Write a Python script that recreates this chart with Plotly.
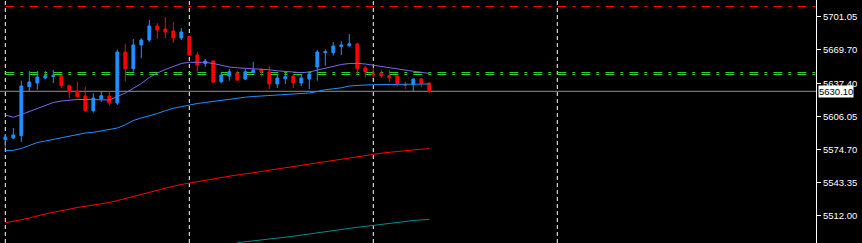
import plotly.graph_objects as go

# ---- data ----
open_ = [5584.22, 5585.83, 5588.01, 5634.46, 5637.97, 5642.71, 5644.20, 5644.89, 5635.41, 5630.39,
         5625.65, 5611.71, 5622.80, 5625.65, 5619.01, 5667.36, 5651.53, 5674.00, 5678.74, 5692.01,
         5689.17, 5687.27, 5680.63, 5681.87, 5664.52, 5656.27, 5658.83, 5639.20, 5644.61, 5647.45,
         5641.76, 5647.74, 5650.58, 5648.40, 5637.02, 5642.05, 5644.61, 5637.97, 5641.76, 5653.14,
         5666.70, 5666.70, 5672.58, 5673.33, 5674.95, 5652.19, 5646.79, 5647.17, 5644.89, 5644.61,
         5636.74, 5636.74, 5641.76, 5637.69]
high = [5589.62, 5595.31, 5640.15, 5649.35, 5649.35, 5649.35, 5650.30, 5645.56, 5636.36, 5638.92,
        5634.46, 5628.21, 5630.10, 5630.39, 5669.54, 5674.95, 5679.69, 5680.35, 5697.70, 5694.85,
        5700.54, 5695.80, 5690.11, 5682.53, 5667.36, 5660.72, 5659.78, 5648.69, 5651.24, 5649.63,
        5651.24, 5657.88, 5651.91, 5654.09, 5646.50, 5647.74, 5645.56, 5646.50, 5649.35, 5669.26,
        5669.92, 5676.84, 5677.79, 5684.43, 5676.18, 5654.09, 5652.19, 5650.30, 5650.30, 5645.56,
        5639.20, 5642.20, 5642.71, 5638.92]
low = [5576.63, 5584.88, 5582.04, 5630.39, 5631.62, 5641.76, 5637.97, 5632.95, 5623.47, 5623.47,
       5611.00, 5609.81, 5620.24, 5616.45, 5617.11, 5639.20, 5648.69, 5661.39, 5677.13, 5679.69,
       5680.63, 5675.89, 5678.74, 5664.04, 5648.69, 5653.14, 5637.69, 5637.69, 5640.15, 5640.15,
       5640.82, 5647.74, 5643.94, 5632.28, 5633.23, 5637.02, 5633.23, 5635.13, 5632.28, 5640.15,
       5654.37, 5664.04, 5664.52, 5672.39, 5646.50, 5643.00, 5643.00, 5642.71, 5638.92, 5634.46,
       5632.28, 5630.39, 5633.90, 5628.21]
close = [5586.78, 5588.67, 5635.13, 5638.92, 5643.66, 5644.89, 5645.20, 5635.41, 5629.72, 5624.98,
         5611.71, 5623.75, 5625.93, 5619.01, 5667.36, 5651.53, 5674.00, 5678.74, 5692.01, 5688.22,
         5686.32, 5680.63, 5686.32, 5664.52, 5655.04, 5658.83, 5638.92, 5645.56, 5648.69, 5640.82,
         5648.69, 5650.30, 5648.69, 5637.02, 5642.71, 5643.94, 5637.97, 5642.71, 5646.50, 5667.36,
         5667.65, 5673.05, 5674.00, 5675.23, 5651.53, 5648.69, 5645.84, 5644.89, 5643.00, 5637.69,
         5635.79, 5641.76, 5637.69, 5630.10]

ma_fast = [5607.63, 5605.45, 5608.11, 5610.95, 5613.80, 5617.11, 5619.48, 5620.91, 5621.85, 5622.33,
           5622.33, 5622.14, 5621.85, 5621.85, 5625.17, 5628.49, 5632.95, 5637.50, 5643.19, 5647.45,
           5650.77, 5653.43, 5656.46, 5657.60, 5657.60, 5657.60, 5656.46, 5654.75, 5653.14, 5652.38,
           5651.91, 5651.53, 5651.24, 5650.49, 5649.54, 5648.78, 5648.12, 5647.74, 5648.40, 5650.30,
           5652.19, 5654.09, 5655.51, 5656.46, 5656.65, 5655.98, 5654.75, 5653.61, 5652.48, 5650.96,
           5649.82, 5649.06, 5648.12, 5646.98]
ma_mid = [5573.88, 5574.17, 5575.87, 5578.72, 5581.56, 5582.98, 5584.41, 5586.30, 5587.73, 5589.15,
          5590.57, 5591.23, 5592.47, 5593.60, 5595.31, 5598.34, 5602.42, 5604.79, 5606.69, 5609.06,
          5611.71, 5613.99, 5615.50, 5617.11, 5618.54, 5619.48, 5620.62, 5621.38, 5622.52, 5623.47,
          5624.51, 5625.17, 5625.65, 5626.12, 5626.41, 5626.78, 5627.26, 5627.54, 5628.49, 5629.91,
          5631.62, 5632.47, 5633.42, 5635.13, 5635.89, 5636.08, 5636.36, 5636.45, 5636.55, 5636.64,
          5636.74, 5636.83, 5636.93, 5637.02]
ma_slow = [5505.53, 5506.67, 5508.28, 5509.99, 5512.07, 5513.78, 5515.39, 5517.10, 5518.71, 5519.94,
           5521.08, 5522.31, 5523.26, 5524.68, 5526.48, 5528.47, 5530.84, 5532.55, 5534.25, 5536.34,
           5538.43, 5540.13, 5541.74, 5543.17, 5544.59, 5545.82, 5547.15, 5548.38, 5549.61, 5550.75,
           5551.70, 5552.84, 5554.07, 5555.30, 5556.44, 5557.67, 5558.90, 5560.23, 5561.56, 5562.79,
           5563.83, 5564.97, 5566.20, 5567.34, 5568.48, 5569.43, 5570.47, 5571.42, 5572.27, 5573.13,
           5573.88, 5574.64, 5575.21, 5575.69]
ma_long_start = 29
ma_long = [5486.57, 5487.33, 5488.09, 5488.84, 5489.70, 5490.74, 5491.78, 5492.73, 5493.77, 5495.01,
           5496.14, 5497.38, 5498.61, 5499.46, 5500.31, 5501.17, 5502.02, 5502.97, 5504.01, 5505.06,
           5506.10, 5506.95, 5507.62, 5508.19, 5508.75]

tick_vals = [5701.05, 5669.70, 5637.40, 5606.05, 5574.70, 5543.35, 5512.00]
tick_text = ["5701.05", "5669.70", "5637.40", "5606.05", "5574.70", "5543.35", "5512.00"]

red_level = 5710.50
green_levels = [5647.93, 5646.03]
last_price = 5630.10
separators = [0, 23, 46, 69]

y_range = [5486.28, 5716.66]
x_range = [-0.6625, 101.34]

# ---- figure ----
idx = list(range(len(close)))
fig = go.Figure()

fig.add_trace(go.Scatter(x=idx, y=ma_slow, mode="lines", line=dict(color="#FF0000", width=1),
                         hoverinfo="skip", showlegend=False))
fig.add_trace(go.Scatter(x=list(range(ma_long_start, ma_long_start + len(ma_long))), y=ma_long,
                         mode="lines", line=dict(color="#008B8B", width=1), hoverinfo="skip",
                         showlegend=False))
fig.add_trace(go.Scatter(x=idx, y=ma_mid, mode="lines", line=dict(color="#1E90FF", width=1),
                         hoverinfo="skip", showlegend=False))
fig.add_trace(go.Scatter(x=idx, y=ma_fast, mode="lines", line=dict(color="#7B68EE", width=1),
                         hoverinfo="skip", showlegend=False))

fig.add_trace(go.Candlestick(
    x=idx, open=open_, high=high, low=low, close=close,
    increasing=dict(line=dict(color="#1E90FF", width=1), fillcolor="#1E90FF"),
    decreasing=dict(line=dict(color="#FF0000", width=1), fillcolor="#FF0000"),
    whiskerwidth=0, hoverinfo="skip", showlegend=False))

shapes = []
for s in separators:
    shapes.append(dict(type="line", xref="x", yref="paper", x0=s, x1=s, y0=0, y1=1,
                       line=dict(color="white", width=1, dash="4px,3px"), layer="below"))
shapes.append(dict(type="line", xref="x", yref="y", x0=0, x1=x_range[1], y0=red_level, y1=red_level,
                   line=dict(color="#FF0000", width=1, dash="9px,6px,3px,6px"), layer="below"))
for g in green_levels:
    shapes.append(dict(type="line", xref="x", yref="y", x0=0, x1=x_range[1], y0=g, y1=g,
                       line=dict(color="#32CD32", width=1, dash="9px,6px,3px,6px"), layer="below"))
shapes.append(dict(type="line", xref="paper", yref="y", x0=0, x1=1, y0=last_price, y1=last_price,
                   line=dict(color="#8C919B", width=1), layer="below"))

fig.update_layout(
    width=862, height=243,
    margin=dict(l=0, r=46, t=0, b=0),
    paper_bgcolor="black", plot_bgcolor="black",
    boxgap=0.5,
    showlegend=False,
    shapes=shapes,
    xaxis=dict(range=x_range, visible=False, rangeslider=dict(visible=False), fixedrange=True),
    yaxis=dict(range=y_range, side="right", tickvals=tick_vals, ticktext=tick_text,
               ticks="outside", ticklen=4, tickcolor="white", tickwidth=1,
               showline=True, linecolor="white", linewidth=1, showgrid=False, zeroline=False,
               tickfont=dict(family="Liberation Sans, Arial, sans-serif", size=9.5, color="white"),
               fixedrange=True),
    annotations=[dict(xref="paper", yref="y", x=1, y=last_price, xanchor="left", yanchor="middle",
                      xshift=2, text=format(last_price, ".2f"), showarrow=False,
                      bgcolor="white", borderpad=0,
                      font=dict(family="Liberation Sans, Arial, sans-serif", size=9.5, color="black"))],
)

fig.write_html("out.html")
